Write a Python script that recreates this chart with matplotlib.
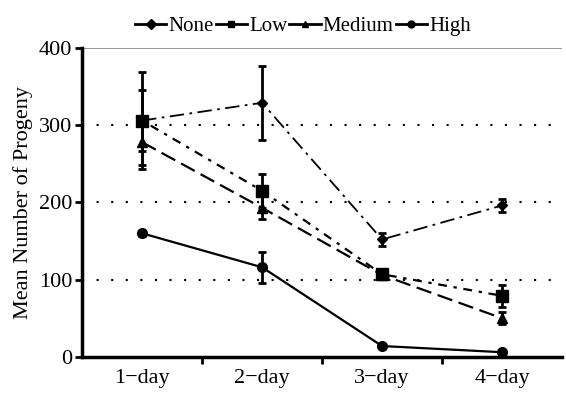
import matplotlib
matplotlib.use("Agg")
import matplotlib.pyplot as plt
from matplotlib.lines import Line2D
import numpy as np

plt.rcParams['font.family'] = ['Liberation Serif', 'DejaVu Serif']

days = ["1\u2212day", "2\u2212day", "3\u2212day", "4\u2212day"]
levels = ["None", "Low", "Medium", "High"]

none_vals = [306, 329, 152, 196]
none_err = [40, 48, 9, 9]
low_vals = [306, 215, 107, 79]
low_err = [63, 22, 5, 14]
medium_vals = [278, 193, 106, 50]
medium_err = [30, 15, 4, 8]
high_vals = [160, 116, 14, 6]
high_err = [3, 20, 3, 2]

styles = {
    "None": dict(marker="D", ms=5, ls=(0, (8, 3, 1.5, 3)), lw=1.3),
    "Low": dict(marker="s", ms=8, ls=(0, (1.5, 3, 4, 3)), lw=1.6),
    "Medium": dict(marker="^", ms=7, ls=(0, (7, 3)), lw=1.6),
    "High": dict(marker="o", ms=7, ls="-", lw=1.6),
}

fig = plt.figure(figsize=(5.66, 3.93), dpi=100)
ax = fig.add_axes([0.145, 0.092, 0.848, 0.786])

x = np.arange(len(days)) + 0.5
series = [(none_vals, none_err), (low_vals, low_err),
          (medium_vals, medium_err), (high_vals, high_err)]
handles = []
for name, (vals, err) in zip(levels, series):
    st = styles[name]
    ax.errorbar(x, vals, yerr=err, color="black", marker=st["marker"],
                ms=st["ms"], ls=st["ls"], lw=st["lw"], elinewidth=2,
                capsize=3, capthick=2, zorder=3)
    handles.append(Line2D([], [], color="black", marker=st["marker"],
                          ms=5, lw=2, ls="-", label=name))

ax.set_xlim(0, 4)
ax.set_ylim(0, 400)
ax.set_yticks([0, 100, 200, 300, 400])
ax.set_xticks(x)
ax.set_xticklabels(days)
ax.set_xticks([1, 2, 3], minor=True)
ax.tick_params(axis="x", which="major", length=0, labelsize=16, pad=9)
ax.tick_params(axis="x", which="minor", length=5, width=2, direction="out")
ax.tick_params(axis="y", length=5, width=2, labelsize=16, pad=2)
for v in [100, 200, 300]:
    ax.axhline(v, color="black", ls=(0, (1, 6)), lw=1.5, zorder=1)
ax.axhline(400, color="#888888", lw=1.2, zorder=1)

ax.spines["left"].set_linewidth(2.5)
ax.spines["bottom"].set_linewidth(2.5)
ax.spines["top"].set_visible(False)
ax.spines["right"].set_visible(False)

ax.set_ylabel("Mean Number of Progeny", fontsize=16, labelpad=4)

ax.legend(handles=handles, loc="lower center", bbox_to_anchor=(0.46, 1.0),
          ncol=4, frameon=False,
          prop={"family": "Liberation Serif", "size": 15},
          handlelength=1.5, handletextpad=0.1, columnspacing=0.1,
          borderaxespad=0.15)

fig.savefig("out.png", dpi=100)
